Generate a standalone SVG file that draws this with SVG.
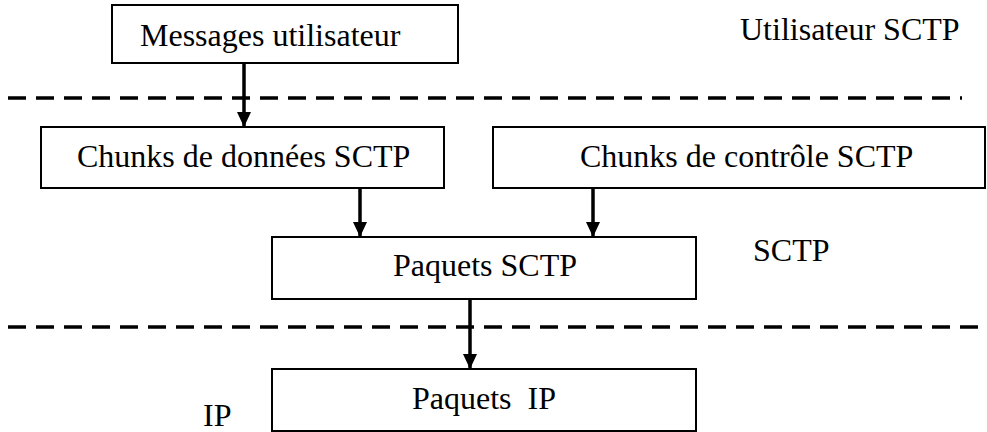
<svg xmlns="http://www.w3.org/2000/svg" width="987" height="432" viewBox="0 0 987 432">
<style>
.box{fill:#fff;stroke:#000;stroke-width:2}
.t{font-family:"Liberation Serif","Times New Roman",serif;font-size:32px;fill:#000;white-space:pre}
.dash{stroke:#000;stroke-width:3.5;stroke-dasharray:18 10;fill:none}
.arr{stroke:#000;stroke-width:3.5;fill:none;marker-end:url(#ah)}
</style>
<defs>
<marker id="ah" viewBox="0 0 15 14" refX="15" refY="7" markerWidth="15" markerHeight="14" markerUnits="userSpaceOnUse" orient="auto">
<path d="M0,0 L15,7 L0,14 z" fill="#000"/>
</marker>
</defs>
<rect width="987" height="432" fill="#fff"/>
<g id="layers">
<line class="dash" x1="8" y1="98" x2="962" y2="98"/>
<line class="dash" x1="8" y1="327" x2="987" y2="327"/>
<text class="t" x="740" y="40">Utilisateur SCTP</text>
<text class="t" x="753" y="261">SCTP</text>
<text class="t" x="203" y="426">IP</text>
</g>
<g id="n-messages">
<rect class="box" x="112" y="5" width="346" height="58"/>
<text class="t" x="140" y="46">Messages utilisateur</text>
</g>
<g id="n-donnees">
<rect class="box" x="41" y="127" width="403" height="61"/>
<text class="t" x="77" y="167">Chunks de données SCTP</text>
</g>
<g id="n-controle">
<rect class="box" x="493" y="127" width="492" height="61"/>
<text class="t" x="580" y="167">Chunks de contrôle SCTP</text>
</g>
<g id="n-paquets-sctp">
<rect class="box" x="272" y="237" width="424" height="62"/>
<text class="t" x="393" y="276">Paquets SCTP</text>
</g>
<g id="n-paquets-ip">
<rect class="box" x="272" y="369" width="424" height="62"/>
<text class="t" x="412" y="409">Paquets  IP</text>
</g>
<g id="connectors">
<line class="arr" x1="244" y1="63" x2="244" y2="127"/>
<line class="arr" x1="360" y1="188" x2="360" y2="237"/>
<line class="arr" x1="593" y1="188" x2="593" y2="237"/>
<line class="arr" x1="470" y1="299" x2="470" y2="369"/>
</g>
</svg>
